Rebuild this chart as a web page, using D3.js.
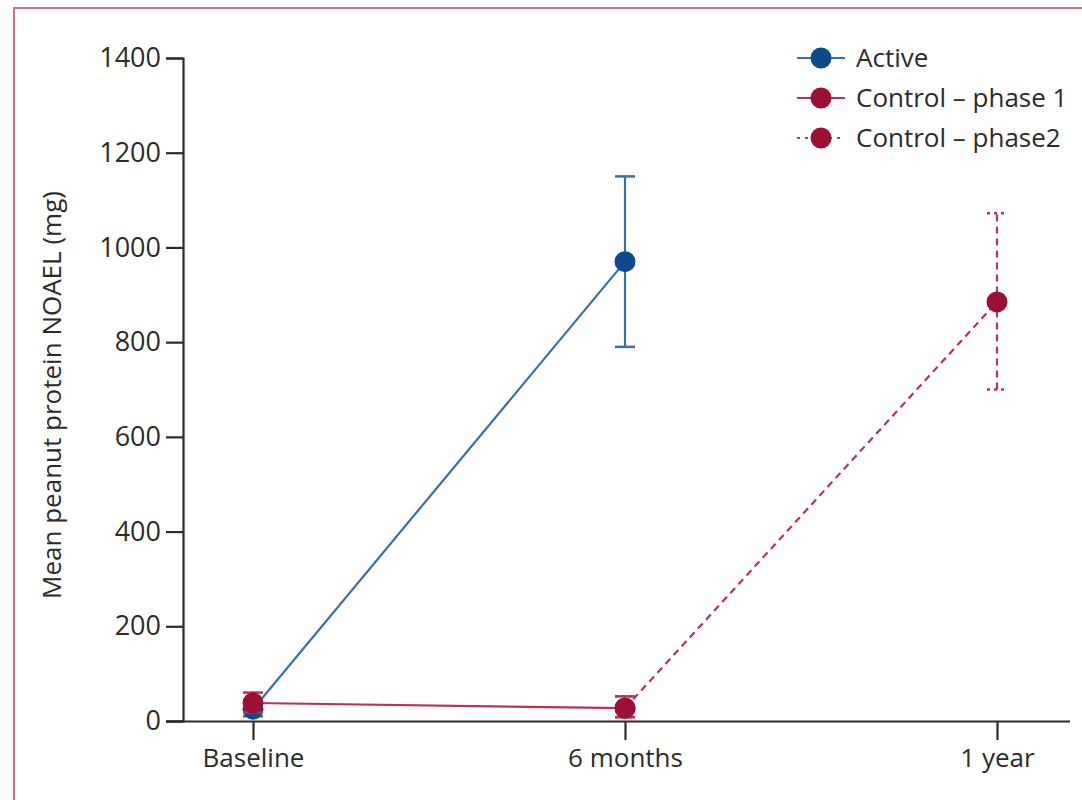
<!DOCTYPE html>
<html lang="en">
<head>
<meta charset="UTF-8">
<title>Mean peanut protein NOAEL</title>
<script src="https://d3js.org/d3.v7.min.js"></script>
<style>
  body { margin: 0; background: #fff; }
  text { font-family: "Open Sans", "Noto Sans", sans-serif; fill: #2b2b2b; }
</style>
</head>
<body>
<svg id="main" width="1082" height="800"></svg>
<script>
// data
const timepoints = ['Baseline', '6 months', '1 year'];
const yTicks = [0, 200, 400, 600, 800, 1000, 1200, 1400];

const activeMean = [25, 970];
const activeLow = [10, 790];
const activeHigh = [40, 1150];

const control1Mean = [38, 27];
const control1Low = [18, 8];
const control1High = [60, 52];

const control2Mean = [27, 885];
const control2Low = [8, 700];
const control2High = [52, 1072];

const legendLabels = ['Active', 'Control \u2013 phase 1', 'Control \u2013 phase2'];

const blue = '#0d4a8b', blueLine = '#3a6ea8';
const red = '#9c1036', redLine = '#b63458';
const axisCol = '#2b2b2b';

let svg = d3.select('svg#main');

// frame
svg.append('path')
  .attr('d', 'M14,800 L14,8 L1082,8')
  .attr('fill', 'none')
  .attr('stroke', '#cf6f88')
  .attr('stroke-width', 2);

let x = d3.scalePoint().domain(timepoints).range([253, 997]);
let y = d3.scaleLinear().domain([0, 1400]).range([721, 58]);

// y axis
let yAxis = svg.append('g')
  .attr('transform', 'translate(183,0)')
  .call(d3.axisLeft(y).tickValues(yTicks).tickFormat(d3.format('d'))
    .tickSize(17).tickSizeOuter(17).tickPadding(5));
yAxis.selectAll('text').style('font-size', '27px');

// x axis
let xAxis = svg.append('g')
  .attr('transform', 'translate(0,721)')
  .call(d3.axisBottom(x).tickSize(19).tickSizeOuter(0).tickPadding(9));
xAxis.select('.domain').attr('d', 'M166,0.5H1070');
xAxis.selectAll('text').style('font-size', '26px');

svg.selectAll('.domain, .tick line').attr('stroke', axisCol).attr('stroke-width', 2.2);

// y title
svg.append('text')
  .attr('transform', 'translate(61,395) rotate(-90)')
  .attr('text-anchor', 'middle')
  .style('font-size', '26px')
  .text('Mean peanut protein NOAEL (mg)');

function series(cats, mean, low, high, lineCol, dotCol, dash) {
  let pts = cats.map((c, i) => ({ c: c, m: mean[i], lo: low[i], hi: high[i] }));
  let g = svg.append('g');
  g.append('path')
    .datum(pts)
    .attr('fill', 'none')
    .attr('stroke', lineCol)
    .attr('stroke-width', 2.2)
    .attr('stroke-dasharray', dash)
    .attr('d', d3.line().x(d => x(d.c)).y(d => y(d.m)));
  let eb = g.selectAll('g.eb').data(pts).enter().append('g');
  eb.append('line')
    .attr('x1', d => x(d.c)).attr('x2', d => x(d.c))
    .attr('y1', d => y(d.lo)).attr('y2', d => y(d.hi))
    .attr('stroke', lineCol).attr('stroke-width', 2.2).attr('stroke-dasharray', dash);
  ['lo', 'hi'].forEach(k => {
    eb.append('line')
      .attr('x1', d => x(d.c) - 10).attr('x2', d => x(d.c) + 10)
      .attr('y1', d => y(d[k])).attr('y2', d => y(d[k]))
      .attr('stroke', lineCol).attr('stroke-width', 2.5).attr('stroke-dasharray', dash ? '3,4' : null);
  });
  return { g: g, pts: pts, dotCol: dotCol };
}

let sActive = series(timepoints.slice(0, 2), activeMean, activeLow, activeHigh, blueLine, blue, null);
let sCtrl2 = series(timepoints.slice(1, 3), control2Mean, control2Low, control2High, redLine, red, '7,5');
let sCtrl1 = series(timepoints.slice(0, 2), control1Mean, control1Low, control1High, redLine, red, null);

[sActive, sCtrl2, sCtrl1].forEach(s => {
  s.g.selectAll('circle').data(s.pts).enter().append('circle')
    .attr('cx', d => x(d.c)).attr('cy', d => y(d.m))
    .attr('r', 10.5).attr('fill', s.dotCol);
});

// legend
let legend = svg.append('g').attr('transform', 'translate(797,58)');
const legendStyles = [
  { line: blueLine, dot: blue, dash: null },
  { line: redLine, dot: red, dash: null },
  { line: redLine, dot: red, dash: '3,5' }
];
legendLabels.forEach((lab, i) => {
  let row = legend.append('g').attr('transform', 'translate(0,' + (i * 40) + ')');
  row.append('line').attr('x1', 0).attr('x2', 48).attr('y1', 0).attr('y2', 0)
    .attr('stroke', legendStyles[i].line).attr('stroke-width', 2.2)
    .attr('stroke-dasharray', legendStyles[i].dash);
  row.append('circle').attr('cx', 24).attr('cy', 0).attr('r', 10.5).attr('fill', legendStyles[i].dot);
  row.append('text').attr('x', 59).attr('y', 0).attr('dy', '0.35em')
    .style('font-size', '26px').text(lab);
});
</script>
</body>
</html>
